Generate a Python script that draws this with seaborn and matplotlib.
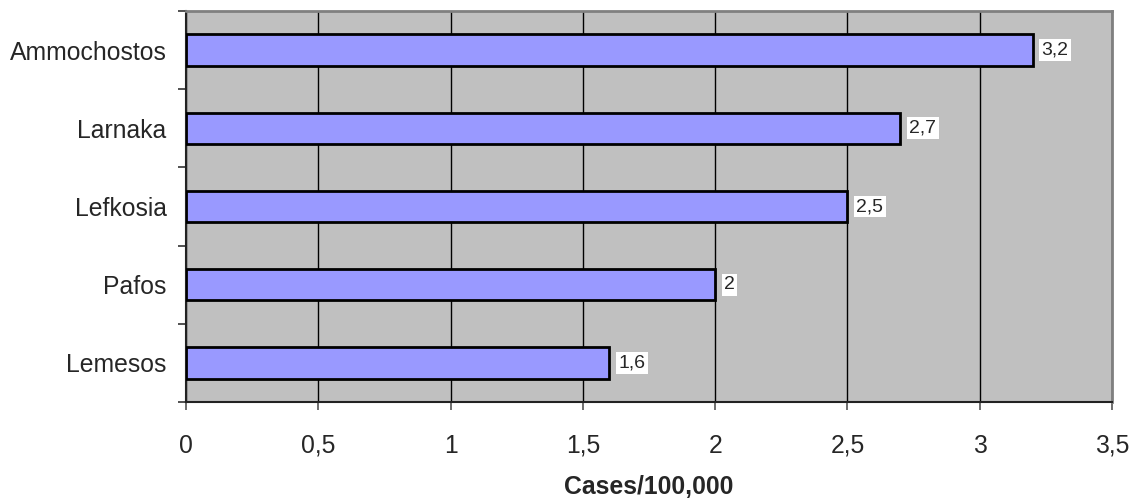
import matplotlib
matplotlib.use("Agg")
import matplotlib.pyplot as plt
from matplotlib.ticker import FixedLocator, FuncFormatter
import seaborn as sns
import pandas as pd

districts = ["Ammochostos", "Larnaka", "Lefkosia", "Pafos", "Lemesos"]
rates = [3.2, 2.7, 2.5, 2.0, 1.6]
x_ticks = [0, 0.5, 1, 1.5, 2, 2.5, 3, 3.5]
x_title = "Cases/100,000"

sns.set_theme(style="white")
plt.rcParams["font.family"] = ["Liberation Sans", "DejaVu Sans"]

df = pd.DataFrame({"district": districts, "rate": rates})

fig = plt.figure(figsize=(11.4, 5.01), dpi=100)
ax = fig.add_axes([186 / 1140, 99 / 501, 926 / 1140, 391 / 501])
ax.set_facecolor("#C0C0C0")

sns.barplot(data=df, x="rate", y="district", order=districts, color="#9999FF",
            saturation=1, width=0.4, edgecolor="black", linewidth=2, ax=ax,
            zorder=3)

ax.set_xlim(0, 3.5)
ax.set_ylim(4.5, -0.5)

ax.xaxis.set_major_locator(FixedLocator(x_ticks))
ax.xaxis.set_major_formatter(FuncFormatter(lambda v, p: f"{v:g}".replace(".", ",")))
ax.grid(axis="x", color="black", linewidth=1, zorder=1)
ax.grid(axis="y", visible=False)
ax.set_axisbelow(True)

ax.tick_params(axis="x", which="major", length=6, width=1.2, color="#555555",
               direction="out", labelsize=17.8, pad=17, bottom=True)
ax.tick_params(axis="y", which="major", length=0, labelsize=17.8, pad=14)
ax.yaxis.set_minor_locator(FixedLocator([-0.5, 0.5, 1.5, 2.5, 3.5, 4.5]))
ax.tick_params(axis="y", which="minor", length=6, width=1.2, color="#333333",
               direction="out", left=True)

ax.set_ylabel("")
ax.set_xlabel(x_title, fontsize=17.8, fontweight="bold", va="center")
ax.xaxis.set_label_coords(0.5, -0.218)

for side in ["left", "bottom"]:
    ax.spines[side].set_color("#222222")
    ax.spines[side].set_linewidth(1.5)
for side in ["top", "right"]:
    ax.spines[side].set_color("#808080")
    ax.spines[side].set_linewidth(2)

for i, v in enumerate(rates):
    ax.annotate(f"{v:g}".replace(".", ","), xy=(v, i), xytext=(9, 0),
                textcoords="offset pixels", va="center", ha="left",
                fontsize=14,
                bbox=dict(boxstyle="square,pad=0.12", facecolor="white",
                          edgecolor="none"), zorder=5)

fig.savefig("out.png", dpi=100)
